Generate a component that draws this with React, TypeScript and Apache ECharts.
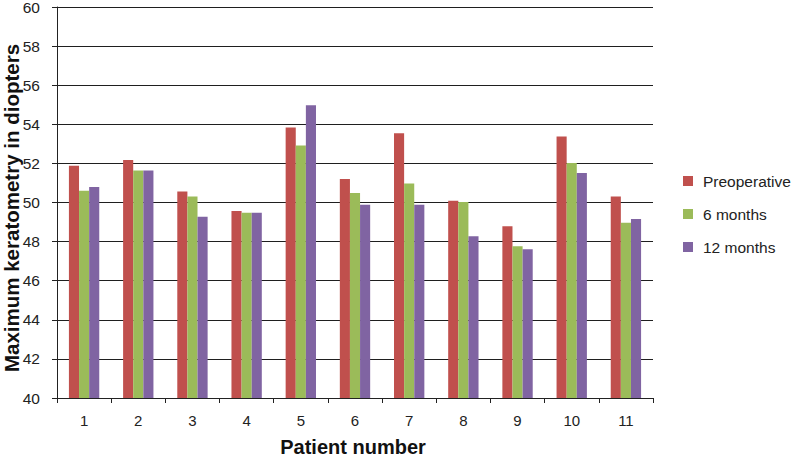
import React, { useEffect, useRef } from "react";
import * as echarts from "echarts";

const categories = ["1", "2", "3", "4", "5", "6", "7", "8", "9", "10", "11"];
const preoperative = [51.88, 52.17, 50.56, 49.56, 53.83, 51.2, 53.54, 50.09, 48.79, 53.38, 50.31];
const sixMonths = [50.6, 51.64, 50.31, 49.47, 52.92, 50.48, 50.97, 50.02, 47.76, 52.02, 48.96];
const twelveMonths = [50.79, 51.64, 49.27, 49.47, 54.97, 49.88, 49.88, 48.28, 47.61, 51.51, 49.16];
const xTitle = "Patient number";
const yTitle = "Maximum keratometry in diopters";

const FONT = "'Liberation Sans', Arial, sans-serif";

export default function App() {
  const ref = useRef<HTMLDivElement>(null);
  useEffect(() => {
    if (!ref.current) return;
    const chart = echarts.init(ref.current, undefined, { renderer: "svg" });
    const bar = (name: string, data: number[], color: string) => ({
      name,
      type: "bar",
      data,
      itemStyle: { color },
      barGap: "0%",
      barCategoryGap: "44%",
    });
    chart.setOption({
      animation: false,
      textStyle: { fontFamily: FONT },
      grid: { left: 57, right: 144, top: 7, bottom: 60, containLabel: false, outerBoundsMode: "none" },
      legend: {
        orient: "vertical",
        left: 683,
        top: 173,
        padding: 0,
        itemWidth: 10,
        itemHeight: 10,
        itemGap: 17,
        icon: "rect",
        textStyle: { fontSize: 15.5, color: "#222", fontFamily: FONT, padding: [0, 0, 0, 5] },
        data: ["Preoperative", "6 months", "12 months"],
      },
      graphic: [
        {
          type: "text",
          x: 353,
          y: 447,
          style: {
            text: xTitle,
            font: "bold 20px 'Liberation Sans', Arial, sans-serif",
            fill: "#111",
            textAlign: "center",
            textVerticalAlign: "middle",
          },
        },
        {
          type: "text",
          x: 11,
          y: 208,
          rotation: Math.PI / 2,
          style: {
            text: yTitle,
            font: "bold 20.5px 'Liberation Sans', Arial, sans-serif",
            fill: "#111",
            textAlign: "center",
            textVerticalAlign: "middle",
          },
        },
      ],
      xAxis: {
        type: "category",
        data: categories,
        axisLine: { lineStyle: { color: "#222", width: 1 } },
        axisTick: { show: true, length: 5, lineStyle: { color: "#222" } },
        axisLabel: { fontSize: 15, color: "#222", margin: 15 },
      },
      yAxis: {
        type: "value",
        min: 40,
        max: 60,
        interval: 2,
        axisLine: { show: true, lineStyle: { color: "#222", width: 1 } },
        axisTick: { show: true, length: 5, lineStyle: { color: "#222" } },
        axisLabel: { fontSize: 15.5, color: "#222", margin: 17 },
        splitLine: { show: true, lineStyle: { color: "#1f1f1f", width: 1 } },
      },
      series: [
        bar("Preoperative", preoperative, "#C0504D"),
        bar("6 months", sixMonths, "#9BBB59"),
        bar("12 months", twelveMonths, "#8064A2"),
      ],
    });
    return () => chart.dispose();
  }, []);
  return <div ref={ref} style={{ width: 797, height: 458, position: "absolute", left: 0, top: 0 }} />;
}
